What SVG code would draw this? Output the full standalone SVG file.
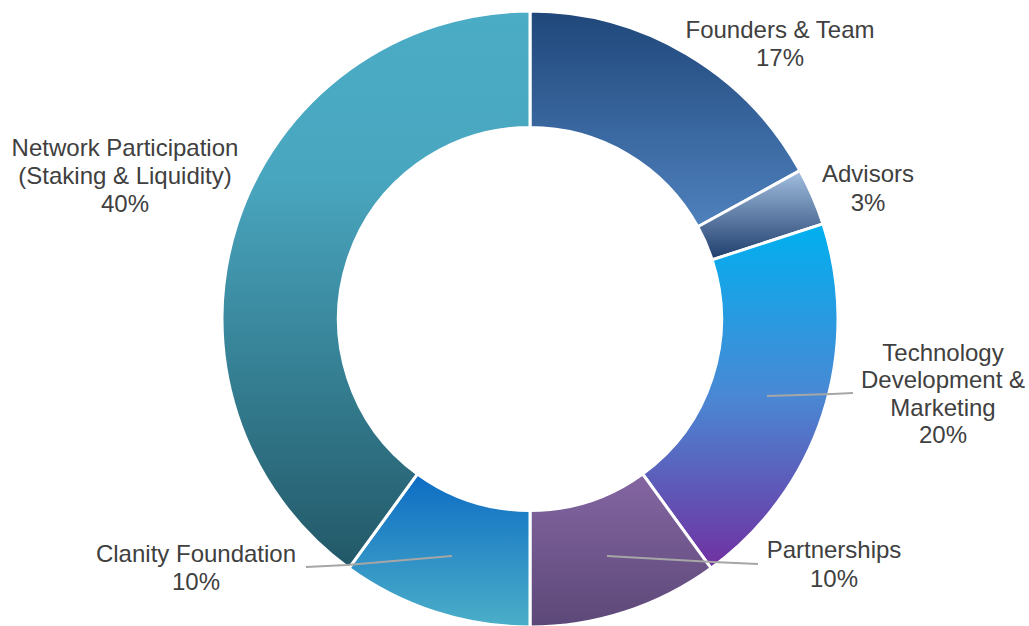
<svg xmlns="http://www.w3.org/2000/svg" width="1029" height="626" viewBox="0 0 1029 626">
<style>
.slice{stroke:#fff;stroke-width:3;stroke-linejoin:miter}
.lbl{font-family:"Liberation Sans",Arial,sans-serif;font-size:24px;fill:#404040;text-anchor:middle}
.lead{fill:none;stroke:#a6a6a6;stroke-width:2}
</style>
<defs>
<linearGradient id="gFounders" x1="0" y1="0" x2="0" y2="1"><stop offset="0" stop-color="#1f477a"/><stop offset="1" stop-color="#4f81bd"/></linearGradient>
<linearGradient id="gAdvisors" x1="0" y1="0" x2="0" y2="1"><stop offset="0" stop-color="#a3bfe0"/><stop offset="1" stop-color="#1e3d6c"/></linearGradient>
<linearGradient id="gTech" x1="0" y1="0" x2="0" y2="1"><stop offset="0" stop-color="#00b0f0"/><stop offset="0.5" stop-color="#4a88d4"/><stop offset="1" stop-color="#7030a0"/></linearGradient>
<linearGradient id="gPartner" x1="0" y1="0" x2="0" y2="1"><stop offset="0" stop-color="#8466a2"/><stop offset="1" stop-color="#5c4878"/></linearGradient>
<linearGradient id="gClanity" x1="0" y1="0" x2="0" y2="1"><stop offset="0" stop-color="#0d6cc4"/><stop offset="1" stop-color="#4bafc8"/></linearGradient>
<linearGradient id="gNetwork" x1="0" y1="0" x2="0" y2="1"><stop offset="0" stop-color="#4bacc6"/><stop offset="0.3" stop-color="#49a6bf"/><stop offset="1" stop-color="#225867"/></linearGradient>
</defs>
<g id="founders"><path class="slice" fill="url(#gFounders)" d="M530,11 A308,308 0 0 1 799.90,170.62 L697.81,226.74 A191.5,191.5 0 0 0 530,127.5 Z"/></g>
<g id="advisors"><path class="slice" fill="url(#gAdvisors)" d="M799.90,170.62 A308,308 0 0 1 822.93,223.82 L712.13,259.82 A191.5,191.5 0 0 0 697.81,226.74 Z"/></g>
<g id="tech"><path class="slice" fill="url(#gTech)" d="M822.93,223.82 A308,308 0 0 1 711.04,568.18 L642.56,473.93 A191.5,191.5 0 0 0 712.13,259.82 Z"/></g>
<g id="partnerships"><path class="slice" fill="url(#gPartner)" d="M711.04,568.18 A308,308 0 0 1 530,627 L530,510.5 A191.5,191.5 0 0 0 642.56,473.93 Z"/></g>
<g id="clanity"><path class="slice" fill="url(#gClanity)" d="M530,627 A308,308 0 0 1 348.96,568.18 L417.44,473.93 A191.5,191.5 0 0 0 530,510.5 Z"/></g>
<g id="network"><path class="slice" fill="url(#gNetwork)" d="M348.96,568.18 A308,308 0 0 1 530,11 L530,127.5 A191.5,191.5 0 0 0 417.44,473.93 Z"/></g>
<g id="connectors">
<polyline class="lead" points="767,396 832,394 853,393"/>
<polyline class="lead" points="607,556 713,562 758,564"/>
<polyline class="lead" points="452,556 347,565 306,567"/>
</g>
<g id="labels">
<text class="lbl" x="780" y="37.5">Founders &amp; Team</text>
<text class="lbl" x="780" y="65.7">17%</text>
<text class="lbl" x="868" y="182.3">Advisors</text>
<text class="lbl" x="868" y="210.7">3%</text>
<text class="lbl" x="943" y="360.7">Technology</text>
<text class="lbl" x="943" y="388">Development &amp;</text>
<text class="lbl" x="943" y="415.7">Marketing</text>
<text class="lbl" x="943" y="443.3">20%</text>
<text class="lbl" x="834" y="558.3">Partnerships</text>
<text class="lbl" x="834" y="586.5">10%</text>
<text class="lbl" x="196" y="561.7">Clanity Foundation</text>
<text class="lbl" x="196" y="590">10%</text>
<text class="lbl" x="125" y="156">Network Participation</text>
<text class="lbl" x="125" y="184">(Staking &amp; Liquidity)</text>
<text class="lbl" x="125" y="212">40%</text>
</g>
</svg>
